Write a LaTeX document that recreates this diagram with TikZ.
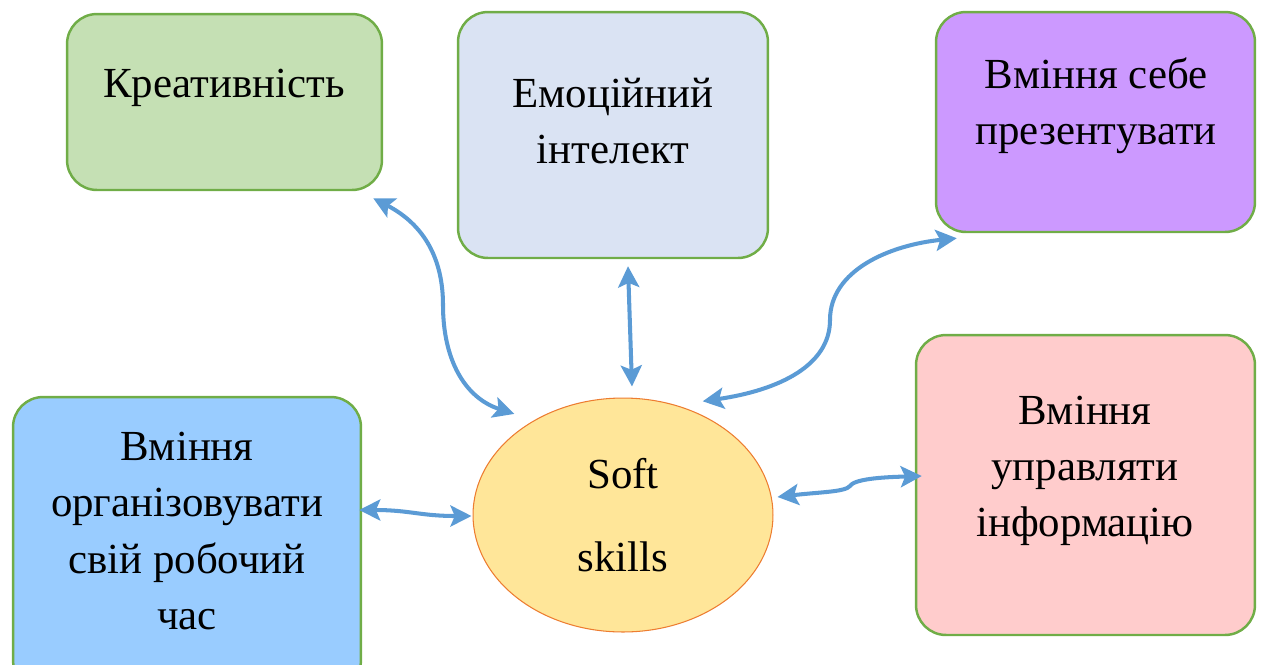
\documentclass[tikz,border=0pt]{standalone}
\usepackage{fontspec}
\setmainfont{Liberation Serif}
\usetikzlibrary{arrows.meta,shapes.geometric}
\definecolor{boxgreen}{HTML}{C5E0B4}
\definecolor{boxgrey}{HTML}{DAE3F3}
\definecolor{boxviolet}{HTML}{CC99FF}
\definecolor{boxblue}{HTML}{99CCFF}
\definecolor{boxpink}{HTML}{FFCCCC}
\definecolor{rimgreen}{HTML}{70AD47}
\definecolor{softfill}{HTML}{FFE699}
\definecolor{softrim}{HTML}{ED7D31}
\definecolor{arrowblue}{HTML}{5B9BD5}

\begin{document}
\begin{tikzpicture}[x=0.02cm,y=-0.02cm]
\tikzset{skill/.style = {shape=rectangle,draw=rimgreen,line width=1.4pt,
	rounded corners=0.6cm}}
\tikzset{lbl/.style = {align=center,font=\fontsize{24.4}{32}\selectfont}}
\tikzset{edge/.style = {<->,> = {Stealth[length=12pt,width=12pt,inset=2.5pt]},
	draw=arrowblue,line width=2.3pt}}
\useasboundingbox (0,0) rectangle (1262,664);
% boxes
\node[skill,fill=boxgreen,minimum width=6.3cm,minimum height=3.52cm] (kre) at (224.5,102) {};
\node[skill,fill=boxgrey,minimum width=6.2cm,minimum height=4.92cm] (emo) at (613,135) {};
\node[skill,fill=boxviolet,minimum width=6.38cm,minimum height=4.4cm] (pres) at (1095.5,122) {};
\node[skill,fill=boxblue,minimum width=6.96cm,minimum height=5.86cm] (org) at (187,543.5) {};
\node[skill,fill=boxpink,minimum width=6.78cm,minimum height=6cm] (upr) at (1085.5,485) {};
\node[ellipse,draw=softrim,fill=softfill,line width=0.6pt,
	minimum width=6cm,minimum height=4.68cm,
	lbl,font=\fontsize{24.4}{47}\selectfont] (soft) at (623,515) {Soft\\skills};

% texts
\node[lbl] (kre-t) at (224,88) {Креативність};
\node[lbl] (emo-t) at (613,121) {Емоційний\\інтелект};
\node[lbl] (pres-t) at (1096,106) {Вміння себе\\презентувати};
\node[lbl] (org-t) at (187,531) {Вміння\\організовувати\\свій робочий\\час};
\node[lbl] (upr-t) at (1085,471) {Вміння\\управляти\\інформацію};

% arrows
\draw[edge] ([shift={(-10,7)}]kre.south east) .. controls (425,225) and (443,260) .. (443,305)
	.. controls (443,360) and (465,398) .. ([shift={(-12,-11)}]soft.137);
\draw[edge] ([shift={(15,7)}]emo.south) -- ([shift={(9,-11)}]soft.north);
\draw[edge] ([shift={(7.5,-10.6)}]soft.55) .. controls (780,390) and (830,365) .. (830,320)
	.. controls (830,270) and (890,245) .. ([shift={(22,5)}]pres.south west);
\draw[edge] ([shift={(-3,-33.5)}]org.east) .. controls (410,510) and (420,516) .. ([shift={(-1,1)}]soft.west);
\draw[edge] ([shift={(4,-18)}]soft.east) .. controls (820,492) and (845,492) .. (850,486)
	.. controls (855,478) and (890,477) .. ([shift={(7,-9)}]upr.west);
\end{tikzpicture}
\end{document}
